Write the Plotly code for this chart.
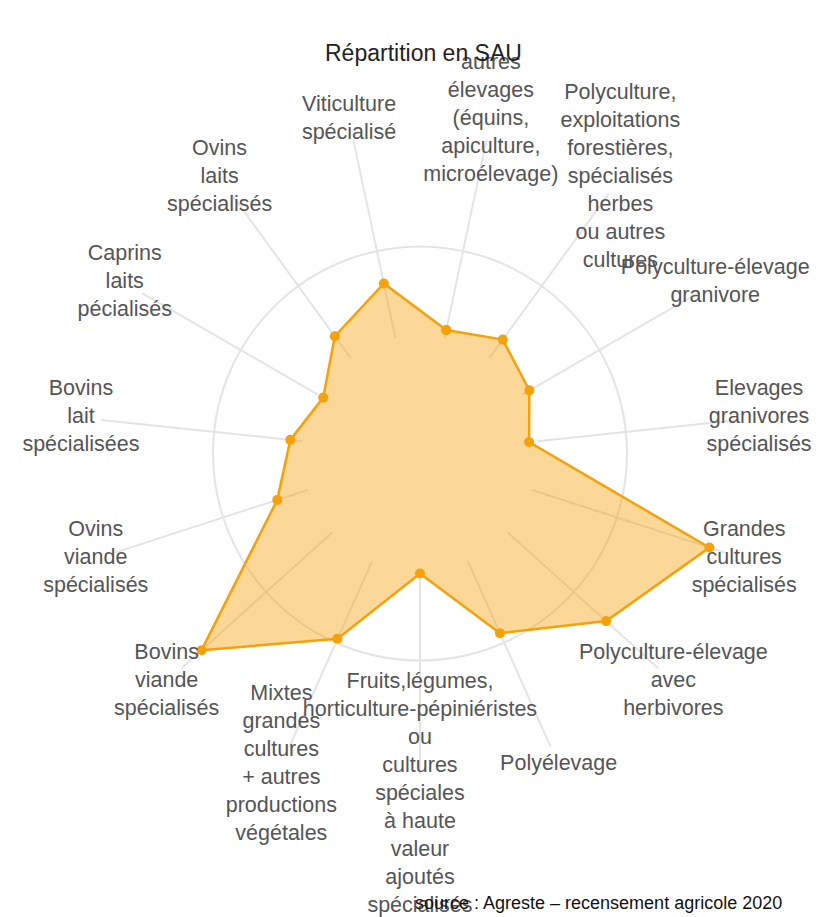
import plotly.graph_objects as go

# Categories, clockwise starting just right of the top
categories = [
    "autres élevages (équins, apiculture, microélevage)",
    "Polyculture, exploitations forestières, spécialisés herbes ou autres cultures",
    "Polyculture-élevage granivore",
    "Elevages granivores spécialisés",
    "Grandes cultures spécialisés",
    "Polyculture-élevage avec herbivores",
    "Polyélevage",
    "Fruits,légumes, horticulture-pépiniéristes ou cultures spéciales à haute valeur ajoutés spécialisés",
    "Mixtes grandes cultures + autres productions végétales",
    "Bovins viande spécialisés",
    "Ovins viande spécialisés",
    "Bovins lait spécialisées",
    "Caprins laits pécialisés",
    "Ovins laits spécialisés",
    "Viticulture spécialisé",
]

tick_labels = [
    "autres<br>élevages<br>(équins,<br>apiculture,<br>microélevage)",
    "Polyculture,<br>exploitations<br>forestières,<br>spécialisés<br>herbes<br>ou autres<br>cultures",
    "Polyculture-élevage<br>granivore",
    "Elevages<br>granivores<br>spécialisés",
    "Grandes<br>cultures<br>spécialisés",
    "Polyculture-élevage<br>avec<br>herbivores",
    "Polyélevage",
    "Fruits,légumes,<br>horticulture-pépiniéristes<br>ou<br>cultures<br>spéciales<br>à haute<br>valeur<br>ajoutés<br>spécialisés",
    "Mixtes<br>grandes<br>cultures<br>+ autres<br>productions<br>végétales",
    "Bovins<br>viande<br>spécialisés",
    "Ovins<br>viande<br>spécialisés",
    "Bovins<br>lait<br>spécialisées",
    "Caprins<br>laits<br>pécialisés",
    "Ovins<br>laits<br>spécialisés",
    "Viticulture<br>spécialisé",
]

# Répartition en SAU (relative scale)
sau_values = [6.1, 6.8, 6.1, 5.3, 14.7, 12.1, 9.5, 5.8, 9.8, 14.2, 7.25, 6.3, 5.4, 7.0, 8.4]

title_text = "Répartition en SAU"
source_text = "source : Agreste – recensement agricole 2020"

# layout constants
R_MAX = 18
GRID_TICKS = [10]
SPOKE_START = 5.7
SPOKE_END = 15.5
LABEL_R = 16.47

# polar domain: center (420, 453.5) px, radius 372.6 px
W, H = 820, 917
cx, cy, rad = 420, 453.5, 372.6
FONT = "Liberation Sans, Arial, sans-serif"

fig = go.Figure()

# spokes (angular grid lines) from inner radius outward
spoke_r, spoke_t = [], []
for c in categories:
    spoke_r += [SPOKE_START, SPOKE_END, None]
    spoke_t += [c, c, None]
fig.add_trace(go.Scatterpolar(
    r=spoke_r, theta=spoke_t, mode="lines",
    line=dict(color="#e4e4e4", width=2),
    connectgaps=False, hoverinfo="skip", showlegend=False,
))

# data polygon
fig.add_trace(go.Scatterpolar(
    r=sau_values + sau_values[:1],
    theta=categories + categories[:1],
    mode="lines+markers",
    fill="toself",
    fillcolor="rgba(245,161,10,0.42)",
    line=dict(color="#f5a10a", width=2.5),
    marker=dict(color="#f5a10a", size=10),
    showlegend=False,
    name="SAU",
))

# category labels
fig.add_trace(go.Scatterpolar(
    r=[LABEL_R] * len(categories),
    theta=categories,
    mode="text",
    text=tick_labels,
    textposition="middle center",
    textfont=dict(family=FONT, size=21.5, color="#555555"),
    cliponaxis=False,
    hoverinfo="skip",
    showlegend=False,
))

fig.update_layout(
    width=W, height=H,
    margin=dict(l=0, r=0, t=0, b=0),
    paper_bgcolor="white",
    plot_bgcolor="white",
    polar=dict(
        domain=dict(x=[(cx - rad) / W, (cx + rad) / W],
                    y=[(H - cy - rad) / H, (H - cy + rad) / H]),
        bgcolor="white",
        radialaxis=dict(range=[0, R_MAX], tickvals=GRID_TICKS, showticklabels=False,
                        showline=False, ticks="", gridcolor="#e4e4e4", gridwidth=2),
        angularaxis=dict(type="category", categoryorder="array", categoryarray=categories,
                         rotation=78, direction="clockwise",
                         showgrid=False, showline=False, showticklabels=False, ticks=""),
    ),
    annotations=[
        dict(text=title_text, x=423 / W, y=1 - 53 / H, xref="paper", yref="paper",
             xanchor="center", yanchor="middle", showarrow=False,
             font=dict(family=FONT, size=23, color="#222222")),
        dict(text=source_text, x=413 / W, y=1 - 903 / H, xref="paper", yref="paper",
             xanchor="left", yanchor="middle", showarrow=False,
             font=dict(family=FONT, size=18, color="#111111")),
    ],
)

fig.write_html("out.html", config={"displayModeBar": False},
               post_script="document.body.style.margin='0';")
